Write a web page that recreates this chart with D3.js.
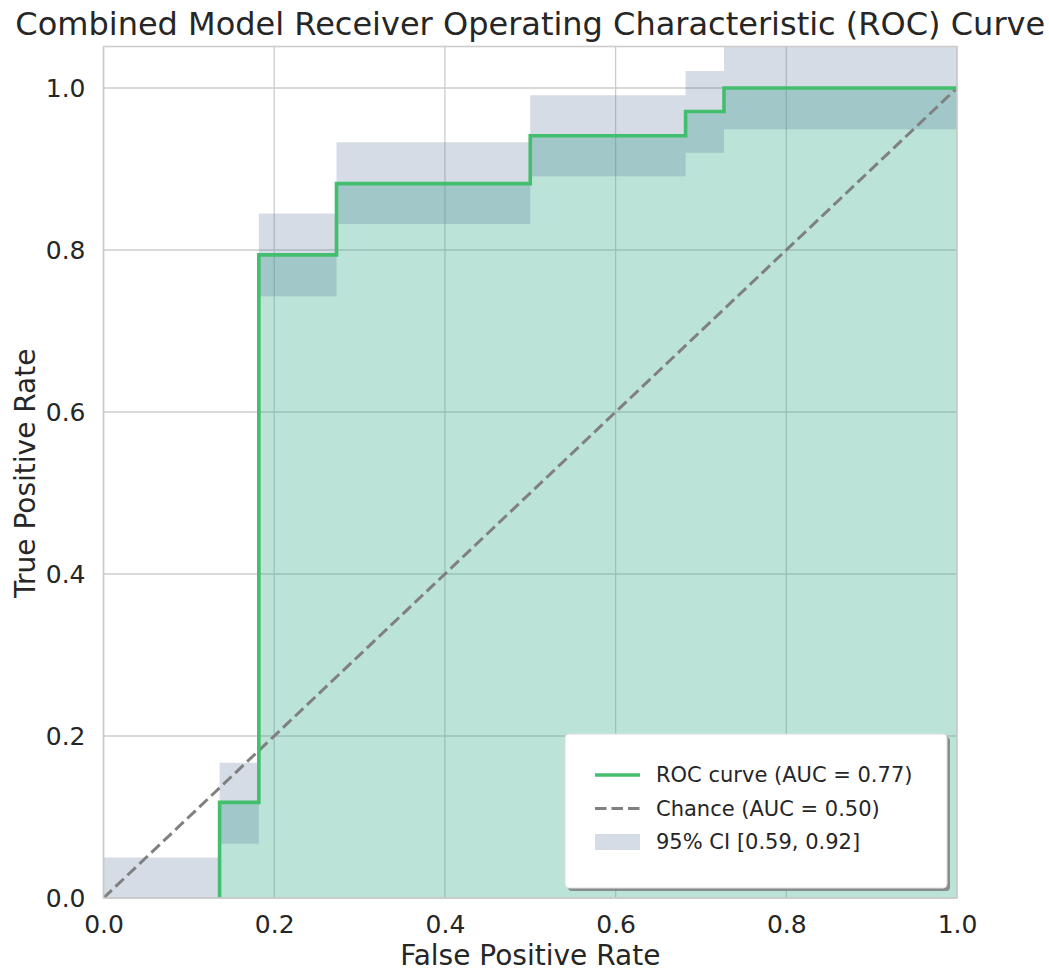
<!DOCTYPE html>
<html><head><meta charset="utf-8">
<script src="https://cdn.jsdelivr.net/npm/d3@7"></script>
<style>body{margin:0;background:#fff;} svg{display:block;font-family:"DejaVu Sans",sans-serif;}</style>
</head><body><svg id="c" width="1049" height="971"></svg>
<script>
// ROC curve points (false positive rate, true positive rate)
const rocFpr = [0.136, 0.136, 0.182, 0.182, 0.273, 0.273, 0.500, 0.500, 0.682, 0.682, 0.727, 0.727, 1.000];
const rocTpr = [0.000, 0.118, 0.118, 0.794, 0.794, 0.882, 0.882, 0.941, 0.941, 0.971, 0.971, 1.000, 1.000];
// 95% CI band (step after)
const ciFpr   = [0.000, 0.136, 0.182, 0.273, 0.500, 0.682, 0.727, 1.000];
const ciLower = [0.000, 0.067, 0.743, 0.832, 0.891, 0.920, 0.949, 0.949];
const ciUpper = [0.050, 0.167, 0.845, 0.933, 0.991, 1.021, 1.080, 1.080];
const chance = [[0,0],[1,1]];
const xTicks = [0.0, 0.2, 0.4, 0.6, 0.8, 1.0];
const yTicks = [0.0, 0.2, 0.4, 0.6, 0.8, 1.0];
const legendLabels = ["ROC curve (AUC = 0.77)", "Chance (AUC = 0.50)", "95% CI [0.59, 0.92]"];
const titleText = "Combined Model Receiver Operating Characteristic (ROC) Curve";

const svg = d3.select("#c");
const L = 103.5, R = 957, T = 46.5, B = 898;
const x = d3.scaleLinear().domain([0, 1]).range([L, R]);
const y = d3.scaleLinear().domain([0, 1.05]).range([B, B - 1.05 * 810]);

svg.append("defs").append("clipPath").attr("id", "clip")
  .append("rect").attr("x", L).attr("y", T).attr("width", R - L).attr("height", B - T);

// grid
const g = svg.append("g");
g.selectAll(".gx").data(xTicks).join("line")
  .attr("x1", d => x(d)).attr("x2", d => x(d)).attr("y1", T).attr("y2", B)
  .attr("stroke", "#cccccc").attr("stroke-width", 1.3);
g.selectAll(".gy").data(yTicks).join("line")
  .attr("y1", d => y(d)).attr("y2", d => y(d)).attr("x1", L).attr("x2", R)
  .attr("stroke", "#cccccc").attr("stroke-width", 1.3);

const plot = svg.append("g").attr("clip-path", "url(#clip)");
const roc = rocFpr.map((f, i) => [f, rocTpr[i]]);
const ci = ciFpr.map((f, i) => ({x: f, lo: ciLower[i], hi: ciUpper[i]}));

// fill under ROC
plot.append("path").datum(roc)
  .attr("d", d3.area().x(d => x(d[0])).y0(y(0)).y1(d => y(d[1])))
  .attr("fill", "#3daf90").attr("fill-opacity", 0.35);
// CI band
plot.append("path").datum(ci)
  .attr("d", d3.area().curve(d3.curveStepAfter).x(d => x(d.x)).y0(d => y(d.lo)).y1(d => y(d.hi)))
  .attr("fill", "#577397").attr("fill-opacity", 0.25);
// chance
plot.append("path").datum(chance)
  .attr("d", d3.line().x(d => x(d[0])).y(d => y(d[1])))
  .attr("stroke", "#808080").attr("stroke-width", 3).attr("stroke-dasharray", "11.5,5").attr("fill", "none");
// ROC line
plot.append("path").datum(roc)
  .attr("d", d3.line().x(d => x(d[0])).y(d => y(d[1])))
  .attr("stroke", "#43be6e").attr("stroke-width", 3.6).attr("fill", "none");

// spines
svg.append("rect").attr("x", L).attr("y", T).attr("width", R - L).attr("height", B - T)
  .attr("fill", "none").attr("stroke", "#cccccc").attr("stroke-width", 1.6);

// axes
const xAxis = svg.append("g").attr("transform", `translate(0,${B})`)
  .call(d3.axisBottom(x).tickValues(xTicks).tickFormat(d3.format(".1f")).tickSize(0).tickPadding(17));
const yAxis = svg.append("g").attr("transform", `translate(${L},0)`)
  .call(d3.axisLeft(y).tickValues(yTicks).tickFormat(d3.format(".1f")).tickSize(0).tickPadding(18));
[xAxis, yAxis].forEach(a => {
  a.select(".domain").remove();
  a.selectAll("text").attr("font-size", 25).attr("fill", "#262626").attr("font-family", "DejaVu Sans");
});

svg.append("text").attr("x", (L + R) / 2).attr("y", 965).attr("text-anchor", "middle")
  .attr("font-size", 28).attr("fill", "#262626").text("False Positive Rate");
svg.append("text").attr("transform", `translate(35,${(B + T) / 2 + 1}) rotate(-90)`).attr("text-anchor", "middle")
  .attr("font-size", 28).attr("fill", "#262626").text("True Positive Rate");
svg.append("text").attr("x", (L + R) / 2).attr("y", 35).attr("text-anchor", "middle")
  .attr("font-size", 32).attr("fill", "#262626").text(titleText);

// legend
const lg = svg.append("g");
const lx = 565, ly = 734, lw = 382, lh = 154;
lg.append("rect").attr("x", lx + 3).attr("y", ly + 3).attr("width", lw).attr("height", lh).attr("rx", 4)
  .attr("fill", "#7f7f7f").attr("fill-opacity", 0.85);
lg.append("rect").attr("x", lx).attr("y", ly).attr("width", lw).attr("height", lh).attr("rx", 4)
  .attr("fill", "#ffffff").attr("stroke", "#dddddd").attr("stroke-width", 1);
const rows = [775, 808.5, 842];
lg.append("line").attr("x1", 595).attr("x2", 640).attr("y1", rows[0]).attr("y2", rows[0])
  .attr("stroke", "#43be6e").attr("stroke-width", 3.6);
lg.append("line").attr("x1", 595).attr("x2", 640).attr("y1", rows[1]).attr("y2", rows[1])
  .attr("stroke", "#808080").attr("stroke-width", 3).attr("stroke-dasharray", "11.5,5");
lg.append("rect").attr("x", 595).attr("y", rows[2] - 8).attr("width", 45).attr("height", 16)
  .attr("fill", "#577397").attr("fill-opacity", 0.25);
lg.selectAll(".lt").data(legendLabels).join("text")
  .attr("x", 656).attr("y", (d, i) => rows[i]).attr("dy", "0.35em")
  .attr("font-size", 21).attr("fill", "#262626").text(d => d);
</script></body></html>
